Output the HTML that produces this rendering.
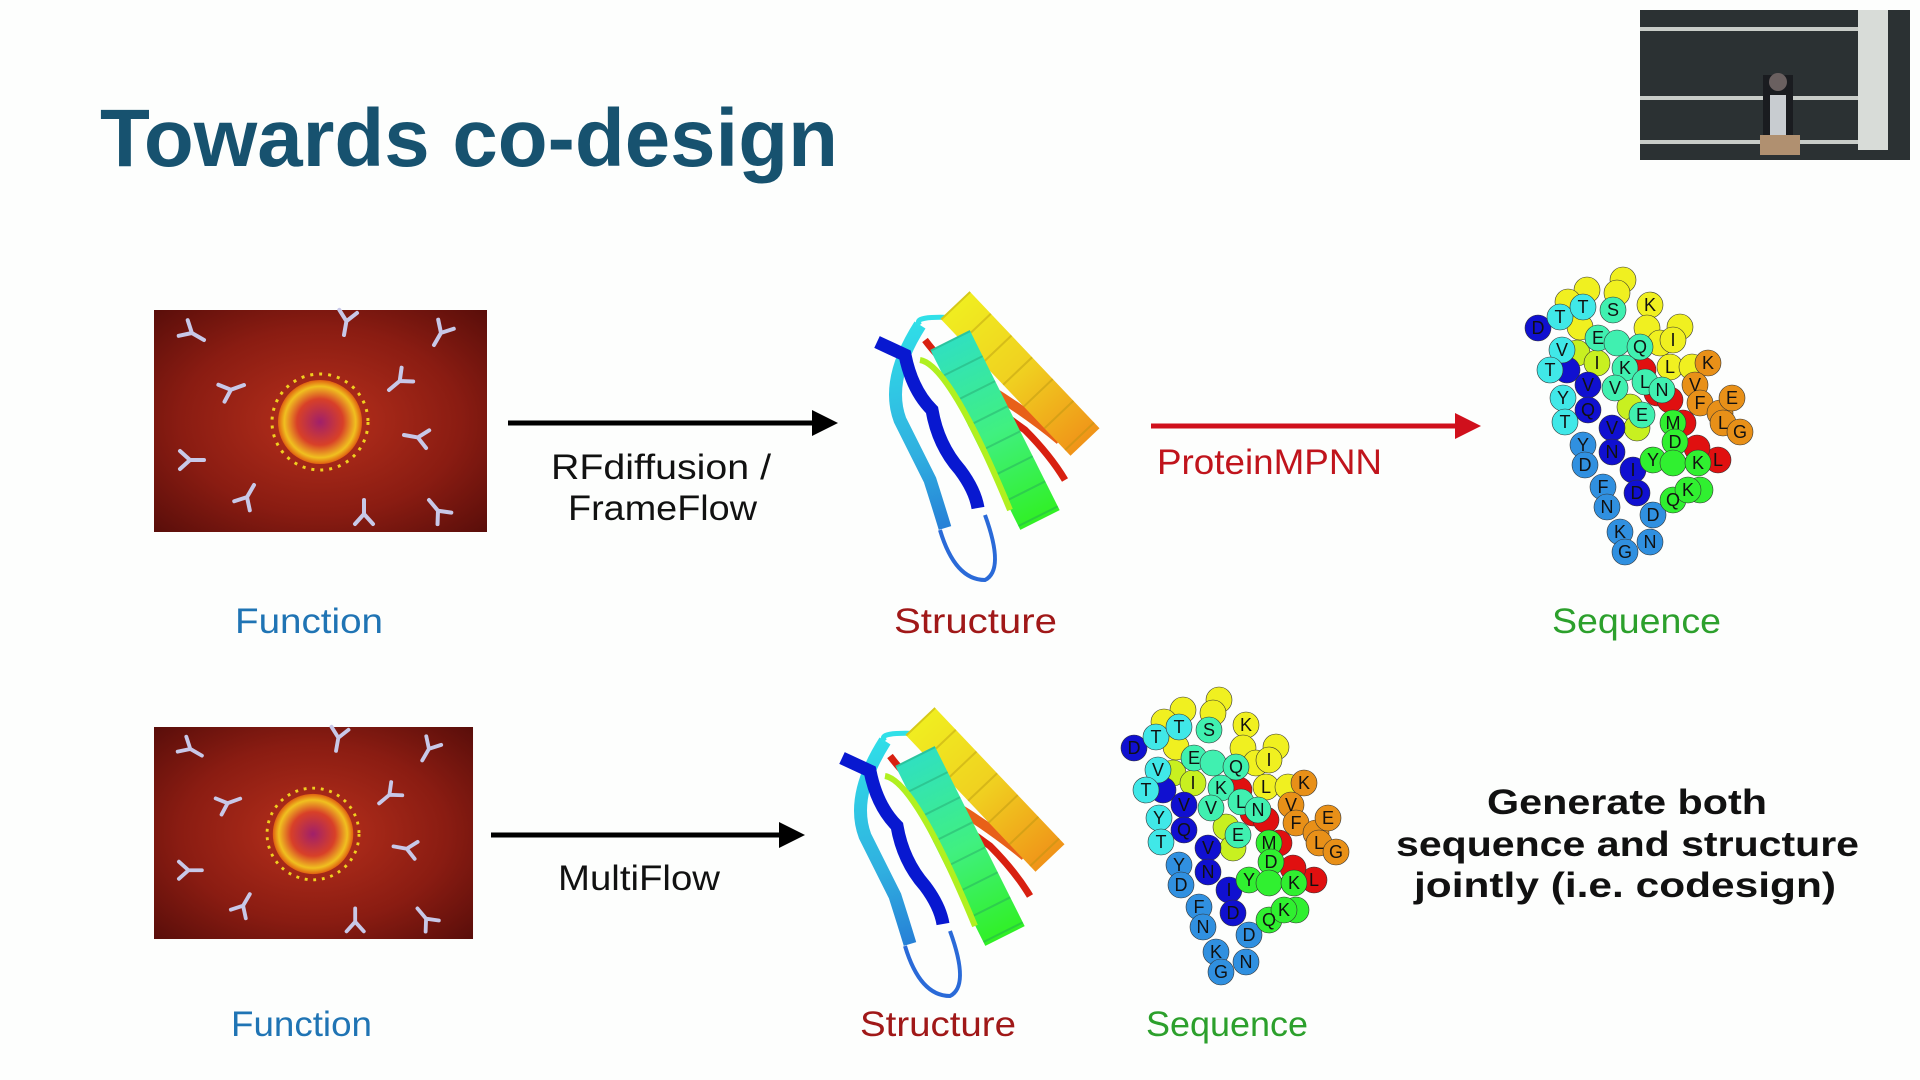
<!DOCTYPE html>
<html><head><meta charset="utf-8"><style>html,body{margin:0;padding:0;background:#fdfefd;}svg{display:block}</style></head>
<body>
<svg width="1920" height="1080" viewBox="0 0 1920 1080" xmlns="http://www.w3.org/2000/svg" font-family="'Liberation Sans','DejaVu Sans',sans-serif">
<defs>
<radialGradient id="bg" cx="50%" cy="50%" r="70%"><stop offset="0" stop-color="#b8301c"/><stop offset="0.6" stop-color="#8a1c12"/><stop offset="1" stop-color="#5a0e0a"/></radialGradient>
<radialGradient id="vir" cx="50%" cy="50%" r="50%"><stop offset="0" stop-color="#a0206a"/><stop offset="0.55" stop-color="#d84028"/><stop offset="0.85" stop-color="#f0c020"/><stop offset="1" stop-color="#e06010"/></radialGradient>
<g id="ab"><path d="M0 0 L0 -14 M0 -14 L-9 -24 M0 -14 L9 -24" stroke="#c8c8e8" stroke-width="4" fill="none" stroke-linecap="round"/></g>
<g id="img">
<rect x="0" y="0" width="333" height="222" fill="url(#bg)"/>
<circle cx="166" cy="112" r="42" fill="url(#vir)"/>
<circle cx="166" cy="112" r="48" fill="none" stroke="#f0d020" stroke-width="3" stroke-dasharray="3 6"/>
<use href="#ab" transform="translate(50,30) rotate(-60)"/>
<use href="#ab" transform="translate(190,25) rotate(10)"/>
<use href="#ab" transform="translate(280,35) rotate(30)"/>
<use href="#ab" transform="translate(90,75) rotate(-110)"/>
<use href="#ab" transform="translate(235,80) rotate(50)"/>
<use href="#ab" transform="translate(250,125) rotate(100)"/>
<use href="#ab" transform="translate(275,190) rotate(140)"/>
<use href="#ab" transform="translate(210,190) rotate(180)"/>
<use href="#ab" transform="translate(100,175) rotate(-150)"/>
<use href="#ab" transform="translate(50,150) rotate(-90)"/>
</g>
<linearGradient id="gB" gradientUnits="userSpaceOnUse" x1="40" y1="40" x2="100" y2="300"><stop offset="0" stop-color="#30e0e8"/><stop offset="0.5" stop-color="#30b0e0"/><stop offset="1" stop-color="#2060d0"/></linearGradient>
<linearGradient id="gY" gradientUnits="userSpaceOnUse" x1="90" y1="20" x2="225" y2="170"><stop offset="0" stop-color="#f0f020"/><stop offset="0.5" stop-color="#f0d020"/><stop offset="1" stop-color="#f09018"/></linearGradient>
<linearGradient id="gC" gradientUnits="userSpaceOnUse" x1="90" y1="60" x2="180" y2="245"><stop offset="0" stop-color="#30e0c0"/><stop offset="0.5" stop-color="#40f080"/><stop offset="1" stop-color="#30f020"/></linearGradient>
<g id="prot">
<path d="M80 250 Q95 300 125 300 Q145 290 125 235" stroke="#2a6ad8" stroke-width="4" fill="none"/>
<path d="M60 45 Q25 100 40 140 Q55 170 70 200 Q78 225 85 248" stroke="url(#gB)" stroke-width="13" fill="none"/>
<path d="M60 45 Q50 35 100 38" stroke="#30e0e8" stroke-width="5" fill="none"/>
<path d="M17 62 L45 75 Q52 110 72 130 Q78 165 100 190 Q115 210 118 228" stroke="#0818d0" stroke-width="13" fill="none"/>
<path d="M65 60 Q95 100 165 150 Q190 175 205 200" stroke="#d82010" stroke-width="7" fill="none"/>
<path d="M130 110 Q170 135 200 160" stroke="#e86018" stroke-width="10" fill="none"/>
<path d="M95 25 L225 162" stroke="url(#gY)" stroke-width="40" fill="none"/>
<path d="M95 25 L225 162" stroke="#b09010" stroke-width="40" stroke-dasharray="2 28" fill="none" opacity="0.4"/>
<path d="M90 60 L180 240" stroke="url(#gC)" stroke-width="44" fill="none"/>
<path d="M90 60 L180 240" stroke="#209060" stroke-width="44" stroke-dasharray="2 26" fill="none" opacity="0.35"/>
<path d="M60 80 Q90 85 150 230" stroke="#b0f020" stroke-width="6" fill="none"/>
</g>
<g id="seq" font-size="18" text-anchor="middle" stroke="#333" stroke-width="0.6">
<g fill="#f0f020"><circle cx="113" cy="20" r="13"/><circle cx="77" cy="30" r="13"/><circle cx="58" cy="42" r="13"/><circle cx="107" cy="33" r="13"/><circle cx="140" cy="45" r="13"/><circle cx="137" cy="68" r="13"/><circle cx="170" cy="67" r="13"/><circle cx="70" cy="67" r="13"/><circle cx="150" cy="83" r="13"/><circle cx="163" cy="80" r="13"/><circle cx="160" cy="107" r="13"/><circle cx="182" cy="107" r="13"/></g>
<g fill="#c8f020"><circle cx="67" cy="93" r="13"/><circle cx="87" cy="103" r="13"/><circle cx="120" cy="147" r="13"/><circle cx="127" cy="168" r="13"/></g>
<g fill="#e89018"><circle cx="198" cy="103" r="13"/><circle cx="185" cy="125" r="13"/><circle cx="190" cy="143" r="13"/><circle cx="210" cy="153" r="13"/><circle cx="222" cy="138" r="13"/><circle cx="213" cy="163" r="13"/><circle cx="230" cy="172" r="13"/></g>
<g fill="#e01010"><circle cx="208" cy="200" r="13"/><circle cx="187" cy="188" r="13"/><circle cx="173" cy="163" r="13"/><circle cx="133" cy="110" r="13"/><circle cx="147" cy="133" r="13"/><circle cx="160" cy="140" r="13"/></g>
<g fill="#1010d0"><circle cx="28" cy="68" r="13"/><circle cx="57" cy="110" r="13"/><circle cx="78" cy="125" r="13"/><circle cx="78" cy="150" r="13"/><circle cx="102" cy="168" r="13"/><circle cx="102" cy="192" r="13"/><circle cx="123" cy="210" r="13"/><circle cx="127" cy="233" r="13"/></g>
<g fill="#40e8e8"><circle cx="50" cy="57" r="13"/><circle cx="73" cy="47" r="13"/><circle cx="52" cy="90" r="13"/><circle cx="40" cy="110" r="13"/><circle cx="53" cy="138" r="13"/><circle cx="55" cy="162" r="13"/></g>
<g fill="#3090e0"><circle cx="73" cy="185" r="13"/><circle cx="75" cy="205" r="13"/><circle cx="93" cy="227" r="13"/><circle cx="97" cy="247" r="13"/><circle cx="110" cy="272" r="13"/><circle cx="115" cy="292" r="13"/><circle cx="140" cy="282" r="13"/><circle cx="143" cy="255" r="13"/></g>
<g fill="#40f0b0"><circle cx="103" cy="50" r="13"/><circle cx="88" cy="78" r="13"/><circle cx="107" cy="83" r="13"/><circle cx="130" cy="87" r="13"/><circle cx="115" cy="108" r="13"/><circle cx="105" cy="128" r="13"/><circle cx="135" cy="122" r="13"/><circle cx="152" cy="130" r="13"/><circle cx="132" cy="155" r="13"/></g>
<g fill="#30f030"><circle cx="163" cy="163" r="13"/><circle cx="165" cy="182" r="13"/><circle cx="143" cy="200" r="13"/><circle cx="163" cy="203" r="13"/><circle cx="188" cy="203" r="13"/><circle cx="190" cy="230" r="13"/><circle cx="163" cy="240" r="13"/><circle cx="178" cy="230" r="13"/></g>
<g fill="#111" stroke="none"><text x="28" y="74">D</text><text x="50" y="63">T</text><text x="73" y="53">T</text><text x="52" y="96">V</text><text x="40" y="116">T</text><text x="53" y="144">Y</text><text x="55" y="168">T</text><text x="78" y="131">V</text><text x="78" y="156">Q</text><text x="102" y="174">V</text><text x="102" y="198">N</text><text x="123" y="216">I</text><text x="127" y="239">D</text><text x="73" y="191">Y</text><text x="75" y="211">D</text><text x="93" y="233">F</text><text x="97" y="253">N</text><text x="110" y="278">K</text><text x="115" y="298">G</text><text x="140" y="288">N</text><text x="143" y="261">D</text><text x="103" y="56">S</text><text x="88" y="84">E</text><text x="130" y="93">Q</text><text x="115" y="114">K</text><text x="105" y="134">V</text><text x="135" y="128">L</text><text x="152" y="136">N</text><text x="132" y="161">E</text><text x="140" y="51">K</text><text x="163" y="86">I</text><text x="160" y="113">L</text><text x="87" y="109">I</text><text x="198" y="109">K</text><text x="185" y="131">V</text><text x="190" y="149">F</text><text x="222" y="144">E</text><text x="213" y="169">L</text><text x="230" y="178">G</text><text x="163" y="169">M</text><text x="165" y="188">D</text><text x="143" y="206">Y</text><text x="188" y="209">K</text><text x="178" y="236">K</text><text x="163" y="246">Q</text><text x="208" y="206">L</text></g>
</g>
</defs>

<text x="100" y="166" font-size="82" font-weight="bold" fill="#17526f" textLength="738" lengthAdjust="spacingAndGlyphs">Towards co-design</text>

<rect x="1640" y="10" width="270" height="150" fill="#2b3133"/>
<rect x="1640" y="27" width="218" height="4" fill="#c8ccc8"/>
<rect x="1640" y="96" width="218" height="4" fill="#c8ccc8"/>
<rect x="1640" y="140" width="218" height="4" fill="#c8ccc8"/>
<rect x="1858" y="10" width="30" height="140" fill="#d8dcd8"/>
<rect x="1763" y="75" width="30" height="70" fill="#1a1c20"/>
<rect x="1770" y="95" width="16" height="40" fill="#c8ccd0"/>
<circle cx="1778" cy="82" r="9" fill="#6a6060"/>
<rect x="1760" y="135" width="40" height="20" fill="#b09070"/>

<use href="#img" x="154" y="310"/>
<g transform="translate(154,727) scale(0.958,0.955)"><use href="#img"/></g>

<line x1="508" y1="423" x2="815" y2="423" stroke="#000" stroke-width="5"/>
<polygon points="812,410 838,423 812,436" fill="#000"/>
<line x1="1151" y1="426" x2="1458" y2="426" stroke="#d0101c" stroke-width="5"/>
<polygon points="1455,413 1481,426 1455,439" fill="#d0101c"/>
<line x1="491" y1="835" x2="782" y2="835" stroke="#000" stroke-width="5"/>
<polygon points="779,822 805,835 779,848" fill="#000"/>

<use href="#prot" transform="translate(860,280)"/>
<use href="#prot" transform="translate(825,696)"/>
<use href="#seq" transform="translate(1510,260)"/>
<use href="#seq" transform="translate(1106,680)"/>

<g font-size="35" lengthAdjust="spacingAndGlyphs">
<text x="551" y="479" fill="#111" textLength="220" lengthAdjust="spacingAndGlyphs">RFdiffusion /</text>
<text x="568" y="520" fill="#111" textLength="189" lengthAdjust="spacingAndGlyphs">FrameFlow</text>
<text x="1157" y="474" fill="#c0141c" textLength="225" lengthAdjust="spacingAndGlyphs">ProteinMPNN</text>
<text x="558" y="890" fill="#111" textLength="162" lengthAdjust="spacingAndGlyphs">MultiFlow</text>
<text x="235" y="633" fill="#1f74b4" textLength="148" lengthAdjust="spacingAndGlyphs">Function</text>
<text x="894" y="633" fill="#a01818" textLength="163" lengthAdjust="spacingAndGlyphs">Structure</text>
<text x="1552" y="633" fill="#2ca02c" textLength="169" lengthAdjust="spacingAndGlyphs">Sequence</text>
<text x="231" y="1036" fill="#1f74b4" textLength="141" lengthAdjust="spacingAndGlyphs">Function</text>
<text x="860" y="1036" fill="#a01818" textLength="156" lengthAdjust="spacingAndGlyphs">Structure</text>
<text x="1146" y="1036" fill="#2ca02c" textLength="162" lengthAdjust="spacingAndGlyphs">Sequence</text>
<g font-weight="bold" font-size="35" fill="#111">
<text x="1487" y="814" textLength="280" lengthAdjust="spacingAndGlyphs">Generate both</text>
<text x="1396" y="856" textLength="463" lengthAdjust="spacingAndGlyphs">sequence and structure</text>
<text x="1414" y="897" textLength="422" lengthAdjust="spacingAndGlyphs">jointly (i.e. codesign)</text>
</g>
</g>
</svg>
</body></html>
